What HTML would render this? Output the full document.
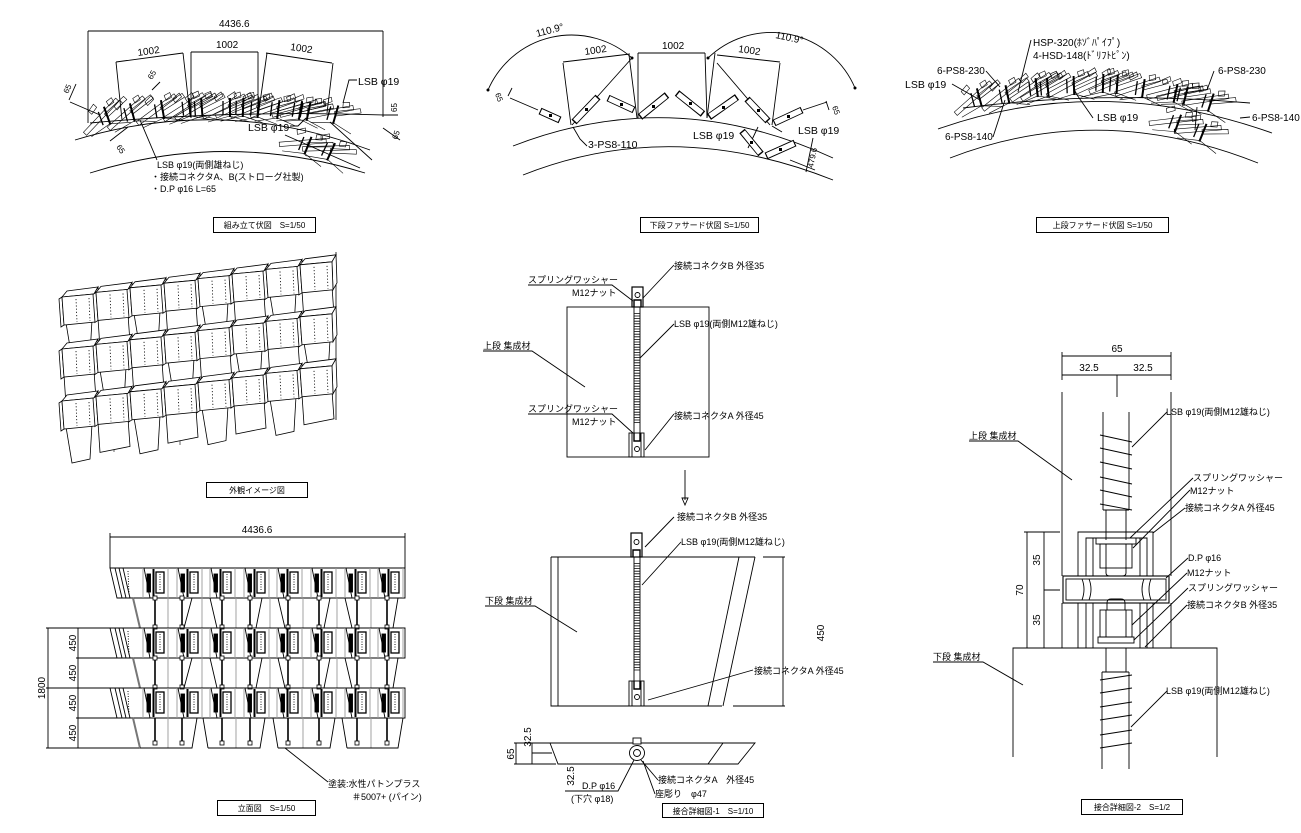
<!DOCTYPE html>
<html><head><meta charset="utf-8"><style>
html,body{margin:0;padding:0;background:#fff;width:1301px;height:833px;overflow:hidden}
svg{display:block}
text{font-family:"Liberation Sans","Noto Sans CJK JP",sans-serif;font-size:9px;fill:#000;stroke:none}
.d{font-size:10px}
.L{font-size:10.5px}
.s{font-size:8px}
</style></head><body>
<svg width="1301" height="833" viewBox="0 0 1301 833">
<defs>
 <g id="pm" fill="none" stroke="#000" stroke-width="0.6">
  <polygon points="-28,5 14,-16 16,-12 -26,9"/>
  <polygon points="-2,-5 22,-15 24,-11 0,-1"/>
  <polygon points="-16,-13 -9,-18 -7,-14 -14,-9"/>
  <polygon points="4,-16 10,-18 11,-13 5,-11"/>
  <path d="M-22,12 L0,6 L20,12"/>
  <line x1="0" y1="-12" x2="0" y2="7" stroke-width="2"/>
  <line x1="-7" y1="-9" x2="-7" y2="5" stroke-width="1.3"/>
 </g>
 <g id="bx" fill="#fff" stroke="#000" stroke-width="0.8">
  <polygon points="0,0 5,-6 36,-10 32,-3"/>
  <polygon points="32,-3 36,-10 37,18 33,25"/>
  <polygon points="-3,2 0,0 2,28 -1,30"/>
  <polygon points="0,0 32,-3 33,25 2,28"/>
  <line x1="14" y1="2" x2="15" y2="25" stroke-dasharray="1.2 2"/>
  <line x1="27" y1="1" x2="28" y2="24" stroke-dasharray="1.2 2"/>
 </g>
 <polygon id="fa" points="4,26 30,23 28,58 10,62" fill="#fff" stroke="#000" stroke-width="0.8"/>
 <polygon id="fb" points="2,26 32,22 34,50 4,56" fill="#fff" stroke="#000" stroke-width="0.8"/>
 <g id="em" fill="none" stroke="#000" stroke-width="0.9">
  <line x1="-4" y1="0" x2="-4" y2="30" stroke="#999"/>
  <line x1="-3" y1="0" x2="3" y2="30"/>
  <rect x="0" y="6" width="3.5" height="18" fill="#000"/>
  <line x1="6.5" y1="1" x2="6.5" y2="29" stroke-width="2"/>
  <rect x="9" y="4" width="8" height="21" fill="#fff" stroke-width="1.3"/>
  <line x1="13" y1="6" x2="13" y2="23" stroke-dasharray="1 1.5"/>
  <line x1="21" y1="0" x2="21" y2="30" stroke="#999"/>
 </g>
 <g id="band" fill="none" stroke="#000" stroke-width="0.9">
  <path d="M110,0 H405 V30 H117 Z"/>
  <path d="M115,0 L122,30 M119,0 L126,30 M123,0 L130,30"/>
  <line x1="128" y1="3" x2="129" y2="27" stroke-dasharray="1 1.5"/>
  <use href="#em" x="147"/><use href="#em" x="181"/><use href="#em" x="214"/><use href="#em" x="248"/>
  <use href="#em" x="281"/><use href="#em" x="315"/><use href="#em" x="349"/><use href="#em" x="382"/>
 </g>
 <g id="gp" fill="none" stroke="#000" stroke-width="0.9">
  <line x1="133" y1="0" x2="140" y2="30" stroke="#777" stroke-width="2"/>
  <path d="M168,0V30M202,0V30M236,0V30M270,0V30M303,0V30M337,0V30M371,0V30" stroke="#999"/>
  <path d="M192,0L184,30 M210,0L217,30 M262,0L256,30 M278,0L285,30 M330,0L324,30 M345,0L352,30 M398,0L393,30"/>
  <path d="M155,0V30M182,0V30M222,0V30M250,0V30M288,0V30M319,0V30M357,0V30M387,0V30" stroke-width="1.6"/>
  <g fill="#fff" stroke-width="0.8">
   <rect x="153" y="-2" width="4" height="4"/><rect x="180" y="-2" width="4" height="4"/><rect x="220" y="-2" width="4" height="4"/><rect x="248" y="-2" width="4" height="4"/>
   <rect x="286" y="-2" width="4" height="4"/><rect x="317" y="-2" width="4" height="4"/><rect x="355" y="-2" width="4" height="4"/><rect x="385" y="-2" width="4" height="4"/>
   <rect x="153" y="27" width="4" height="4"/><rect x="180" y="27" width="4" height="4"/><rect x="220" y="27" width="4" height="4"/><rect x="248" y="27" width="4" height="4"/>
   <rect x="286" y="27" width="4" height="4"/><rect x="317" y="27" width="4" height="4"/><rect x="355" y="27" width="4" height="4"/><rect x="385" y="27" width="4" height="4"/>
  </g>
 </g>
</defs>

<!-- ============ PANEL 1 : 組み立て伏図 ============ -->
<g fill="none" stroke="#000" stroke-width="0.9">
 <path d="M88,31 H383 M88,31 V123 M383,31 V117"/>
 <path d="M191,52 H258 M191,52 V118 M258,52 V118"/>
 <path d="M116,62 L183,53 M116,62 L122,120 M183,53 L190,115"/>
 <path d="M266,53 L332,63 M267,53 L258,117 M333,63 L327,113"/>
 <path d="M75,140 Q222,95 370,150"/>
 <path d="M90,173 Q225,130 365,173"/>
 <path d="M90,123 Q230,110 383,115"/>
 <path d="M70,102 L100,115 M69,100 L76,84 M152,90 L160,82 M110,141 L128,127 M383,115 H398 M383,128 L400,140"/>
 <path d="M157,160 L140,120 M357,80 L349,80 L343,103 M290,126 L298,126 L306,118 M330,122 L372,160 M285,135 L360,168"/>
</g>
<use href="#pm" transform="translate(108,118) rotate(-20)"/>
<use href="#pm" transform="translate(133,115) rotate(-15)"/>
<use href="#pm" transform="translate(163,112) rotate(-10)"/>
<use href="#pm" transform="translate(190,110) rotate(-6)"/>
<use href="#pm" transform="translate(202,110) rotate(-4)"/>
<use href="#pm" transform="translate(230,110) rotate(0)"/>
<use href="#pm" transform="translate(243,110) rotate(2)"/>
<use href="#pm" transform="translate(258,111) rotate(4)"/>
<use href="#pm" transform="translate(278,112) rotate(7)"/>
<use href="#pm" transform="translate(300,113) rotate(10)"/>
<use href="#pm" transform="translate(308,114) rotate(12)"/>
<use href="#pm" transform="translate(335,117) rotate(16)"/>
<use href="#pm" transform="translate(307,148) rotate(22)"/>
<use href="#pm" transform="translate(330,154) rotate(25)"/>
<text class="d" x="219" y="27">4436.6</text>
<text class="d" x="216" y="48">1002</text>
<text class="d" transform="translate(138,56) rotate(-8)">1002</text>
<text class="d" transform="translate(290,50) rotate(8)">1002</text>
<text class="s" transform="translate(68,94) rotate(-65)">65</text>
<text class="s" transform="translate(152,80) rotate(-60)">65</text>
<text class="s" transform="translate(116,147) rotate(55)">65</text>
<text class="s" transform="translate(397,112) rotate(-90)">65</text>
<text class="s" transform="translate(397,140) rotate(-70)">65</text>
<text class="L" x="358" y="85">LSB φ19</text>
<text class="L" x="248" y="131">LSB φ19</text>
<text x="157" y="168">LSB φ19(両側雄ねじ)</text>
<text x="151" y="180">・接続コネクタA、B(ストローグ社製)</text>
<text x="151" y="192">・D.P φ16  L=65</text>
<rect x="213.5" y="217.5" width="102" height="15" fill="none" stroke="#000" stroke-width="1"/>
<text class="s" x="264.5" y="228" text-anchor="middle">組み立て伏図　S=1/50</text>

<!-- ============ PANEL 2 : 下段ファサード伏図 ============ -->
<g fill="none" stroke="#000" stroke-width="0.9">
 <path d="M513,146 Q672,84 833,158"/>
 <path d="M523,175 Q672,116 833,180"/>
 <path d="M488,90 A91,91 0 0 1 632,58"/>
 <path d="M708,58 A91,91 0 0 1 855,88"/>
 <path d="M563,62 L630,54 M563,63 L571,125 M632,58 L572,125 M629,55 L637,118"/>
 <path d="M638,53 H705 M638,53 V118 M705,53 L707,118"/>
 <path d="M715,53 L707,118 M717,55 L780,62 M717,63 L770,125 M780,63 L772,125"/>
 <path d="M510,98 L538,110 M508,96 L512,88 M803,110 L827,102 M826,101 L829,110"/>
 <path d="M813,138 L806,172 M790,160 L815,170 M758,127 L748,148"/>
 <path d="M587,146 L580,139 L573,127 M782,132 L772,126"/>
 <g stroke-width="7" stroke-linecap="butt">
  <path d="M540,111 L560,120 M574,122 L598,97 M608,98 L634,110 M640,117 L667,95 M677,93 L703,114 M709,117 L737,97 M747,99 L768,121 M774,123 L802,110 M742,131 L761,154 M766,156 L795,143"/>
 </g>
 <g stroke-width="5.2" stroke="#fff" stroke-linecap="butt">
  <path d="M541,111.5 L559,119.5 M575,121 L597,98 M609,98.5 L633,109.5 M641,116 L666,96 M678,94 L702,113 M710,116 L736,98 M748,100 L767,120 M775,122.5 L801,110.5 M743,132 L760,153 M767,155.5 L794,143.5"/>
 </g>
 <g fill="#000" stroke="none">
  <rect x="549" y="114" width="3" height="3"/><rect x="585" y="108" width="3" height="3"/><rect x="620" y="103" width="3" height="3"/>
  <rect x="652" y="105" width="3" height="3"/><rect x="689" y="102" width="3" height="3"/><rect x="722" y="106" width="3" height="3"/>
  <rect x="757" y="109" width="3" height="3"/><rect x="787" y="115" width="3" height="3"/><rect x="750" y="141" width="3" height="3"/><rect x="779" y="148" width="3" height="3"/>
  <circle cx="488" cy="90" r="1.5"/><circle cx="632" cy="58" r="1.5"/><circle cx="708" cy="58" r="1.5"/><circle cx="855" cy="88" r="1.5"/>
 </g>
</g>
<text class="d" transform="translate(537,37) rotate(-15)">110.9°</text>
<text class="d" transform="translate(775,38) rotate(12)">110.9°</text>
<text class="d" transform="translate(585,55) rotate(-8)">1002</text>
<text class="d" x="662" y="49">1002</text>
<text class="d" transform="translate(738,52) rotate(8)">1002</text>
<text class="s" transform="translate(495,94) rotate(70)">65</text>
<text class="s" transform="translate(832,107) rotate(70)">65</text>
<text class="s" transform="translate(813,168) rotate(-78)">479.6</text>
<text class="L" x="588" y="148">3-PS8-110</text>
<text class="L" x="693" y="139">LSB φ19</text>
<text class="L" x="798" y="134">LSB φ19</text>
<rect x="640.5" y="217.5" width="118" height="15" fill="none" stroke="#000" stroke-width="1"/>
<text class="s" x="699.5" y="228" text-anchor="middle">下段ファサード伏図 S=1/50</text>

<!-- ============ PANEL 3 : 上段ファサード伏図 ============ -->
<g fill="none" stroke="#000" stroke-width="0.9">
 <path d="M938,129 Q1100,72 1272,133"/>
 <path d="M950,158 Q1100,100 1258,163"/>
 <path d="M963,108 Q1100,90 1250,103"/>
 <path d="M1031,40 L1018,92 M986,71 L1000,87 M952,84 L980,100 M993,137 L1005,100 M1093,118 L1075,92 M1214,71 L1207,90 M1250,117 L1240,118 M1197,107 L1195,130"/>
</g>
<use href="#pm" transform="translate(980,100) rotate(-15)"/>
<use href="#pm" transform="translate(1008,97) rotate(-12)"/>
<use href="#pm" transform="translate(1037,90) rotate(-7)"/>
<use href="#pm" transform="translate(1048,90) rotate(-5)"/>
<use href="#pm" transform="translate(1074,88) rotate(-2)"/>
<use href="#pm" transform="translate(1103,86) rotate(2)"/>
<use href="#pm" transform="translate(1117,87) rotate(4)"/>
<use href="#pm" transform="translate(1143,91) rotate(8)"/>
<use href="#pm" transform="translate(1175,96) rotate(12)"/>
<use href="#pm" transform="translate(1185,98) rotate(14)"/>
<use href="#pm" transform="translate(1210,105) rotate(18)"/>
<use href="#pm" transform="translate(1177,126) rotate(20)"/>
<use href="#pm" transform="translate(1202,135) rotate(22)"/>
<text class="d" x="1033" y="46">HSP-320(ﾎｿﾞﾊﾟｲﾌﾟ)</text>
<text class="d" x="1033" y="59">4-HSD-148(ﾄﾞﾘﾌﾄﾋﾟﾝ)</text>
<text class="d" x="937" y="74">6-PS8-230</text>
<text class="L" x="905" y="88">LSB φ19</text>
<text class="d" x="945" y="140">6-PS8-140</text>
<text class="L" x="1097" y="121">LSB φ19</text>
<text class="d" x="1218" y="74">6-PS8-230</text>
<text class="d" x="1252" y="121">6-PS8-140</text>
<rect x="1036.5" y="217.5" width="132" height="15" fill="none" stroke="#000" stroke-width="1"/>
<text class="s" x="1102.5" y="228" text-anchor="middle">上段ファサード伏図 S=1/50</text>

<!-- ============ PANEL 4 : 外観イメージ図 ============ -->
<g stroke="#888" stroke-width="1.3">
 <line x1="114" y1="320" x2="114" y2="452"/><line x1="180" y1="318" x2="180" y2="445"/>
 <line x1="223" y1="305" x2="223" y2="440"/><line x1="289" y1="290" x2="289" y2="430"/>
</g>
<line x1="336" y1="252" x2="336" y2="420" stroke="#000" stroke-width="0.8"/>
<use href="#fa" x="62" y="297"/><use href="#fb" x="96" y="292.4"/><use href="#fa" x="130" y="287.8"/><use href="#fb" x="164" y="283.2"/>
<use href="#fa" x="198" y="278.6"/><use href="#fb" x="232" y="274"/><use href="#fa" x="266" y="269.4"/><use href="#fb" x="300" y="264.8"/>
<use href="#bx" x="62" y="297"/><use href="#bx" x="96" y="292.4"/><use href="#bx" x="130" y="287.8"/><use href="#bx" x="164" y="283.2"/>
<use href="#bx" x="198" y="278.6"/><use href="#bx" x="232" y="274"/><use href="#bx" x="266" y="269.4"/><use href="#bx" x="300" y="264.8"/>
<use href="#fb" x="62" y="349"/><use href="#fa" x="96" y="344.4"/><use href="#fb" x="130" y="339.8"/><use href="#fa" x="164" y="335.2"/>
<use href="#fb" x="198" y="330.6"/><use href="#fa" x="232" y="326"/><use href="#fb" x="266" y="321.4"/><use href="#fa" x="300" y="316.8"/>
<use href="#bx" x="62" y="349"/><use href="#bx" x="96" y="344.4"/><use href="#bx" x="130" y="339.8"/><use href="#bx" x="164" y="335.2"/>
<use href="#bx" x="198" y="330.6"/><use href="#bx" x="232" y="326"/><use href="#bx" x="266" y="321.4"/><use href="#bx" x="300" y="316.8"/>
<use href="#fa" x="62" y="401"/><use href="#fb" x="96" y="396.4"/><use href="#fa" x="130" y="391.8"/><use href="#fb" x="164" y="387.2"/>
<use href="#fa" x="198" y="382.6"/><use href="#fb" x="232" y="378"/><use href="#fa" x="266" y="373.4"/><use href="#fb" x="300" y="368.8"/>
<use href="#bx" x="62" y="401"/><use href="#bx" x="96" y="396.4"/><use href="#bx" x="130" y="391.8"/><use href="#bx" x="164" y="387.2"/>
<use href="#bx" x="198" y="382.6"/><use href="#bx" x="232" y="378"/><use href="#bx" x="266" y="373.4"/><use href="#bx" x="300" y="368.8"/>
<rect x="206.5" y="482.5" width="101" height="15" fill="none" stroke="#000" stroke-width="1"/>
<text class="s" x="257" y="493" text-anchor="middle">外観イメージ図</text>

<!-- ============ PANEL 5 : 立面図 ============ -->
<g fill="none" stroke="#000" stroke-width="0.9">
 <path d="M110,537 H405 M110,533 V568 M405,533 V568"/>
 <path d="M48,628 V748 M78,628 V748 M46,628 H110 M76,658 H117 M46,688 H110 M76,718 H117 M46,748 H140"/>
</g>
<use href="#band" y="568"/>
<use href="#gp" y="598"/>
<use href="#band" y="628"/>
<use href="#gp" y="658"/>
<use href="#band" y="688"/>
<g fill="none" stroke="#000" stroke-width="0.9">
 <line x1="133" y1="718" x2="140" y2="748" stroke="#777" stroke-width="2"/>
 <path d="M168,718V748M236,718V748M303,718V748M371,718V748" stroke="#999"/>
 <path d="M140,748 H192 L197,718 M208,748 L203,718 M208,748 H260 L265,718 M278,748 L273,718 M278,748 H330 L335,718 M347,748 L342,718 M347,748 H398 L403,718"/>
 <path d="M155,718V745M182,718V745M222,718V745M250,718V745M288,718V745M319,718V745M357,718V745M387,718V745" stroke-width="1.6"/>
 <g fill="#fff" stroke-width="0.8">
  <rect x="153" y="741" width="4" height="4"/><rect x="180" y="741" width="4" height="4"/><rect x="220" y="741" width="4" height="4"/><rect x="248" y="741" width="4" height="4"/>
  <rect x="286" y="741" width="4" height="4"/><rect x="317" y="741" width="4" height="4"/><rect x="355" y="741" width="4" height="4"/><rect x="385" y="741" width="4" height="4"/>
 </g>
 <path d="M285,748 L328,782"/>
</g>
<text class="d" x="257" y="533" text-anchor="middle">4436.6</text>
<text class="d" transform="translate(76,643) rotate(-90)" text-anchor="middle">450</text>
<text class="d" transform="translate(76,673) rotate(-90)" text-anchor="middle">450</text>
<text class="d" transform="translate(76,703) rotate(-90)" text-anchor="middle">450</text>
<text class="d" transform="translate(76,733) rotate(-90)" text-anchor="middle">450</text>
<text class="d" transform="translate(45,688) rotate(-90)" text-anchor="middle">1800</text>
<text x="328" y="787">塗装:水性パトンプラス</text>
<text x="352" y="800">＃5007+ (パイン)</text>
<rect x="217.5" y="800.5" width="98" height="15" fill="none" stroke="#000" stroke-width="1"/>
<text class="s" x="266.5" y="811" text-anchor="middle">立面図　S=1/50</text>

<!-- ============ PANEL 6 : upper detail ============ -->
<g fill="none" stroke="#000" stroke-width="0.9">
 <rect x="567" y="307" width="142" height="150"/>
 <rect x="632" y="287" width="11" height="20" stroke-width="1.2"/>
 <circle cx="637.5" cy="295" r="2.5"/>
 <path d="M634,307 V300 H641 V307" stroke-width="1.4"/>
 <path d="M634,307 V433 M640,307 V433"/>
 <line x1="637" y1="313" x2="637" y2="423" stroke-width="5.5" stroke-dasharray="0.8 1.8"/>
 <rect x="629" y="433" width="15" height="24"/>
 <path d="M632,433 V457 M641,433 V457"/>
 <path d="M634,433 V441 H640 V433" stroke-width="1.4"/>
 <circle cx="637" cy="449" r="2.5"/>
 <path d="M528,285 H612 L633,301 M674,265 L643,298 M674,324 L640,358 M483,351 H532 L585,387 M528,414 H612 L633,433 M674,414 L645,450"/>
 <path d="M685,470 V500"/>
 <path d="M682,498 L688,498 L685,505 Z"/>
</g>
<text x="674" y="269">接続コネクタB 外径35</text>
<text x="528" y="283">スプリングワッシャー</text>
<text x="572" y="296">M12ナット</text>
<text x="674" y="327">LSB φ19(両側M12雄ねじ)</text>
<text x="483" y="349">上段 集成材</text>
<text x="528" y="412">スプリングワッシャー</text>
<text x="572" y="425">M12ナット</text>
<text x="674" y="419">接続コネクタA 外径45</text>

<!-- ============ PANEL 7 : lower detail ============ -->
<g fill="none" stroke="#000" stroke-width="0.9">
 <path d="M551,557 H755 M551,557 V706 H722 M558,557 V706"/>
 <path d="M739,557 L708,706 M755,557 L723,706"/>
 <path d="M763,557 H785 M783,557 V706 M733,706 H785"/>
 <rect x="631" y="533" width="11" height="24" stroke-width="1.2"/>
 <circle cx="636.5" cy="542" r="2.5"/>
 <path d="M633,557 V550 H640 V557" stroke-width="1.4"/>
 <path d="M634,557 V681 M640,557 V681"/>
 <line x1="637" y1="563" x2="637" y2="672" stroke-width="5.5" stroke-dasharray="0.8 1.8"/>
 <rect x="629" y="681" width="15" height="25"/>
 <path d="M632,681 V706 M641,681 V706"/>
 <path d="M634,681 V689 H640 V681" stroke-width="1.4"/>
 <circle cx="637" cy="697" r="2.5"/>
 <path d="M674,517 L645,547 M681,542 L642,585 M485,606 H535 L577,632 M753,670 L648,700"/>
</g>
<text x="677" y="520">接続コネクタB 外径35</text>
<text x="681" y="545">LSB φ19(両側M12雄ねじ)</text>
<text x="485" y="604">下段 集成材</text>
<text x="754" y="674">接続コネクタA 外径45</text>
<text class="d" transform="translate(824,633) rotate(-90)" text-anchor="middle">450</text>

<!-- ============ PANEL 8 : 接合詳細図-1 ============ -->
<g fill="none" stroke="#000" stroke-width="0.9">
 <path d="M550,743 H755 L738,764 H558 Z"/>
 <path d="M723,743 L708,764"/>
 <path d="M516,743 V764 M532,743 V764 M514,743 H550 M514,764 H556 M532,753 H552"/>
 <rect x="633" y="738" width="8" height="6" fill="#fff"/>
 <circle cx="637" cy="753" r="7.5" fill="#fff"/>
 <circle cx="637" cy="753" r="3.5"/>
 <path d="M565,791 H618 L634,760 M658,780 L641,760 M655,794 L643,761"/>
</g>
<text class="d" transform="translate(514,754) rotate(-90)" text-anchor="middle">65</text>
<text class="d" transform="translate(531,737) rotate(-90)" text-anchor="middle">32.5</text>
<text class="d" transform="translate(574,776) rotate(-90)" text-anchor="middle">32.5</text>
<text x="658" y="783">接続コネクタA　外径45</text>
<text x="655" y="797">座彫り　φ47</text>
<text x="582" y="789">D.P φ16</text>
<text x="571" y="802">(下穴 φ18)</text>
<rect x="662.5" y="803.5" width="101" height="14" fill="none" stroke="#000" stroke-width="1"/>
<text class="s" x="713" y="814" text-anchor="middle">接合詳細図-1　S=1/10</text>

<!-- ============ PANEL 9 : 接合詳細図-2 ============ -->
<g fill="none" stroke="#000" stroke-width="0.9">
 <path d="M1062,356 H1171 M1062,375 H1171 M1062,352 V380 M1171,352 V380 M1117,375 V397"/>
 <path d="M1062,392 V576 M1171,392 V576 M1062,603 V648 M1171,603 V648"/>
 <path d="M1013,757 V648 H1217 V757"/>
 <path d="M1103,412 V510 M1129,412 V510 M1103,510 H1129 M1106,510 V540 M1126,510 V540"/>
 <path d="M1100,435 L1132,442 M1100,448 L1132,455 M1100,462 L1132,469 M1100,477 L1132,484 M1100,490 L1132,497 M1100,504 L1132,510"/>
 <path d="M1078,576 V532 H1153 V576 M1086,576 V538 H1147 V576 M1093,538 V576 M1140,538 V576"/>
 <rect x="1096" y="538" width="40" height="6"/>
 <rect x="1100" y="544" width="32" height="24"/>
 <path d="M1106,544 V568 M1126,544 V568 M1106,568 V573 Q1106,576 1110,576 H1122 Q1126,576 1126,573 V568"/>
 <rect x="1063" y="576" width="106" height="27" stroke-width="1.1"/>
 <rect x="1066" y="579" width="100" height="21"/>
 <path d="M1082,579 Q1086,589 1082,600 M1089,579 Q1093,589 1089,600 M1144,579 Q1140,589 1144,600 M1151,579 Q1147,589 1151,600"/>
 <path d="M1078,603 V648 M1153,603 V648 M1086,603 V648 M1147,603 V648 M1093,603 V648 M1140,603 V648"/>
 <path d="M1107,610 V603 Q1107,599 1111,599 H1121 Q1125,599 1125,603 V610"/>
 <rect x="1100" y="610" width="32" height="27"/>
 <path d="M1106,610 V637 M1126,610 V637"/>
 <rect x="1098" y="637" width="36" height="6"/>
 <path d="M1106,648 V672 M1126,648 V672 M1102,672 H1129 M1102,672 V769 M1129,672 V769"/>
 <path d="M1100,680 L1132,675 M1100,693 L1132,688 M1100,707 L1132,702 M1100,720 L1132,715 M1100,735 L1132,730 M1100,748 L1132,743"/>
 <path d="M1027,532 V648 M1044,532 V648 M1024,532 H1060 M1044,590 H1060"/>
 <path d="M1167,412 L1132,447 M969,441 H1018 L1072,480 M1193,478 L1130,538 M1190,490 L1133,548 M1185,508 L1153,533 M1188,558 L1166,578 M1187,573 L1132,625 M1188,588 L1134,640 M1187,605 L1145,647 M933,662 H983 L1023,685 M1167,691 L1131,727"/>
</g>
<text class="d" x="1117" y="352" text-anchor="middle">65</text>
<text class="d" x="1089" y="371" text-anchor="middle">32.5</text>
<text class="d" x="1143" y="371" text-anchor="middle">32.5</text>
<text class="d" transform="translate(1040,560) rotate(-90)" text-anchor="middle">35</text>
<text class="d" transform="translate(1040,620) rotate(-90)" text-anchor="middle">35</text>
<text class="d" transform="translate(1023,590) rotate(-90)" text-anchor="middle">70</text>
<text x="1166" y="415">LSB φ19(両側M12雄ねじ)</text>
<text x="969" y="439">上段 集成材</text>
<text x="1193" y="481">スプリングワッシャー</text>
<text x="1190" y="494">M12ナット</text>
<text x="1185" y="511">接続コネクタA 外径45</text>
<text x="1188" y="561">D.P φ16</text>
<text x="1187" y="576">M12ナット</text>
<text x="1188" y="591">スプリングワッシャー</text>
<text x="1187" y="608">接続コネクタB 外径35</text>
<text x="933" y="660">下段 集成材</text>
<text x="1166" y="694">LSB φ19(両側M12雄ねじ)</text>
<rect x="1081.5" y="799.5" width="101" height="15" fill="none" stroke="#000" stroke-width="1"/>
<text class="s" x="1132" y="810" text-anchor="middle">接合詳細図-2　S=1/2</text>
</svg>
</body></html>
